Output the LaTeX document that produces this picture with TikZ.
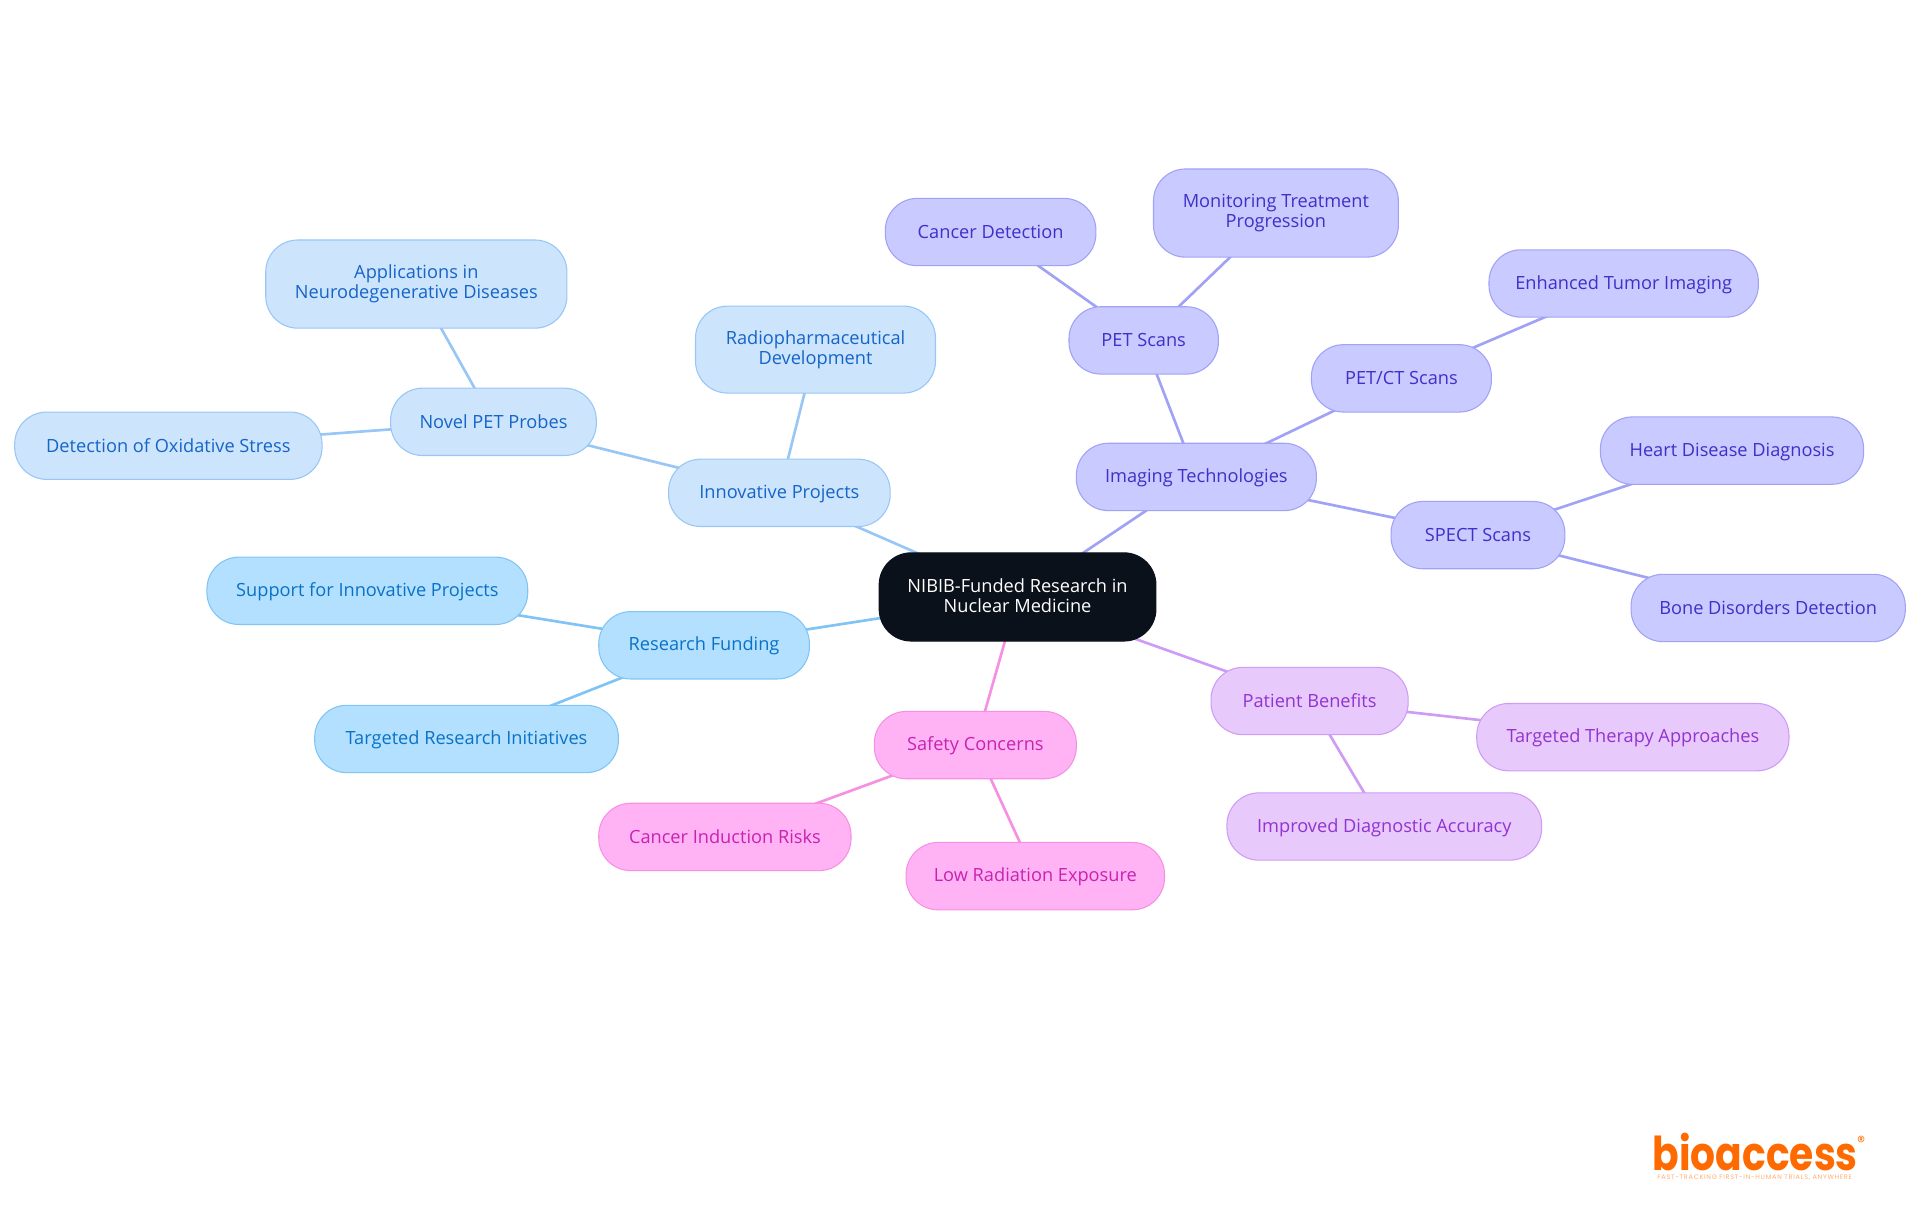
\documentclass[tikz,border=0pt]{standalone}
\usepackage{fontspec}
\setmainfont{Open Sans}
\newfontfamily\logofont{Poppins}
\usetikzlibrary{backgrounds}
\definecolor{cA}{HTML}{B3E0FF}\definecolor{lA}{HTML}{80C4F4}\definecolor{tA}{HTML}{0A72C6}
\definecolor{cB}{HTML}{CDE4FD}\definecolor{lB}{HTML}{98C6F5}\definecolor{tB}{HTML}{1565C8}
\definecolor{cC}{HTML}{C9CAFF}\definecolor{lC}{HTML}{A0A2F6}\definecolor{tC}{HTML}{4030C8}
\definecolor{cD}{HTML}{E7C9FC}\definecolor{lD}{HTML}{CF9CF5}\definecolor{tD}{HTML}{9333D0}
\definecolor{cE}{HTML}{FFB3F5}\definecolor{lE}{HTML}{F590E2}\definecolor{tE}{HTML}{C822B0}
\definecolor{rootc}{HTML}{0B111A}\definecolor{logoc}{HTML}{FF6A00}
\newcommand{\myrule}{\rule[-2pt]{0pt}{13.6pt}}
\tikzset{
  x=0.91837pt,y=-0.91837pt,
  wh/.style 2 args={minimum width=#1*0.91837pt,minimum height=#2*0.91837pt},
  mm/.style={rounded corners=24pt,line width=0.8pt,inner sep=0pt,align=center,font=\fontsize{13.65}{15.2}\selectfont,execute at begin node=\myrule,execute at end node=\myrule},
  nA/.style={mm,draw=lA,fill=cA,text=tA},
  nB/.style={mm,draw=lB,fill=cB,text=tB},
  nC/.style={mm,draw=lC,fill=cC,text=tC},
  nD/.style={mm,draw=lD,fill=cD,text=tD},
  nE/.style={mm,draw=lE,fill=cE,text=tE},
  nR/.style={mm,draw=rootc,fill=rootc,text=white},
  link/.style={line width=2pt},
}
\begin{document}
\begin{tikzpicture}
\useasboundingbox (0,0) rectangle (1568,992);
\node[nR,wh={226}{72}] (root) at (831,487.5) {NIBIB-Funded Research in\\Nuclear Medicine};
% blue
\node[nA,wh={172}{55}] (fund) at (575,527) {Research Funding};
\node[nA,wh={262}{55}] (supp) at (300,482.5) {Support for Innovative Projects};
\node[nA,wh={248}{55}] (targ) at (381,603.5) {Targeted Research Initiatives};
% light blue
\node[nB,wh={181}{55}] (inno) at (636.5,402.5) {Innovative Projects};
\node[nB,wh={196}{71}] (radio) at (666,285.5) {Radiopharmaceutical\\Development};
\node[nB,wh={168}{55}] (novel) at (403,344.5) {Novel PET Probes};
\node[nB,wh={246}{72}] (appl) at (340,232) {Applications in\\Neurodegenerative Diseases};
\node[nB,wh={251}{55}] (oxid) at (137.5,364) {Detection of Oxidative Stress};
% indigo
\node[nC,wh={196}{55}] (imag) at (977,389.5) {Imaging Technologies};
\node[nC,wh={122}{55}] (pet) at (934,278) {PET Scans};
\node[nC,wh={172}{55}] (canc) at (809,189.5) {Cancer Detection};
\node[nC,wh={200}{72}] (moni) at (1042,174) {Monitoring Treatment\\Progression};
\node[nC,wh={147}{55}] (petct) at (1144.5,309) {PET/CT Scans};
\node[nC,wh={220}{55}] (enha) at (1326,231.5) {Enhanced Tumor Imaging};
\node[nC,wh={142}{55}] (spect) at (1207,437) {SPECT Scans};
\node[nC,wh={215}{55}] (hear) at (1414.5,368) {Heart Disease Diagnosis};
\node[nC,wh={224}{55}] (bone) at (1444,496.5) {Bone Disorders Detection};
% purple
\node[nD,wh={161}{55}] (pati) at (1069.5,572.5) {Patient Benefits};
\node[nD,wh={255}{55}] (ther) at (1333.5,602) {Targeted Therapy Approaches};
\node[nD,wh={257}{55}] (impr) at (1130.5,675) {Improved Diagnostic Accuracy};
% pink
\node[nE,wh={165}{55}] (safe) at (796.5,608.5) {Safety Concerns};
\node[nE,wh={206}{55}] (cind) at (592,683.5) {Cancer Induction Risks};
\node[nE,wh={211}{55}] (lowr) at (845.5,715.5) {Low Radiation Exposure};
% logo
\node[inner sep=0pt,anchor=base,xscale=0.84,transform shape,text=logoc,font=\logofont\bfseries\fontsize{35}{35}\selectfont] (logo) at (1433.5,955.5) {bioaccess};
\node[inner sep=0pt,text=logoc,font=\logofont\fontsize{12}{12}\selectfont] (reg) at (1520,932.5) {®};
\node[inner sep=0pt,text=logoc!55,font=\logofont\fontsize{4.9}{5}\selectfont\addfontfeature{LetterSpace=11}] (tag) at (1433,961.5) {FAST-TRACKING FIRST-IN-HUMAN TRIALS, ANYWHERE};
\begin{scope}[on background layer]
\draw[link,lA] (root.center)--(fund.center) (fund.center)--(supp.center) (fund.center)--(targ.center);
\draw[link,lB] (root.center)--(inno.center) (inno.center)--(radio.center) (inno.center)--(novel.center) (novel.center)--(appl.center) (novel.center)--(oxid.center);
\draw[link,lC] (root.center)--(imag.center) (imag.center)--(pet.center) (pet.center)--(canc.center) (pet.center)--(moni.center) (imag.center)--(petct.center) (petct.center)--(enha.center) (imag.center)--(spect.center) (spect.center)--(hear.center) (spect.center)--(bone.center);
\draw[link,lD] (root.center)--(pati.center) (pati.center)--(ther.center) (pati.center)--(impr.center);
\draw[link,lE] (root.center)--(safe.center) (safe.center)--(cind.center) (safe.center)--(lowr.center);
\end{scope}
\end{tikzpicture}
\end{document}
